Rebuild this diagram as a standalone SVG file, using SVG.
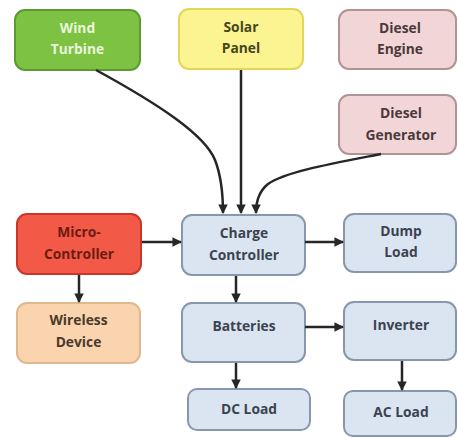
<svg xmlns="http://www.w3.org/2000/svg" width="458" height="438" viewBox="0 0 458 438">
  <defs>
    <marker id="arrow" viewBox="0 0 10 10" refX="9" refY="5" markerWidth="3.8" markerHeight="3.8" orient="auto">
      <path d="M0,0 L10,5 L0,10 Z" fill="#262626"/>
    </marker>
    <style>
      .box { stroke-width: 2; }
      .lbl { font-family: "Open Sans", "Liberation Sans", sans-serif; font-weight: bold; font-size: 13.8px; text-anchor: middle; }
      .blue rect { fill: #dbe5f1; stroke: #8797ac; }
      .blue text { fill: #3b4350; }
      .pink rect { fill: #f2d5d7; stroke: #b09394; }
      .pink text { fill: #4a3a3b; }
      .wire { fill: none; stroke: #262626; stroke-width: 2.5; marker-end: url(#arrow); }
    </style>
  </defs>
  <rect width="458" height="438" fill="#ffffff"/>

  <g id="wind-turbine">
    <rect class="box" x="15" y="10" width="125" height="60" rx="10" fill="#7dc242" stroke="#5c9a34"/>
    <text class="lbl" x="77.5" y="33" fill="#eaf6dc">Wind</text>
    <text class="lbl" x="77.5" y="54" fill="#eaf6dc">Turbine</text>
  </g>
  <g id="solar-panel">
    <rect class="box" x="179" y="9" width="124" height="60" rx="10" fill="#fbf490" stroke="#e2d65a"/>
    <text class="lbl" x="241" y="32" fill="#474520">Solar</text>
    <text class="lbl" x="241" y="53" fill="#474520">Panel</text>
  </g>
  <g id="diesel-engine" class="pink">
    <rect class="box" x="339" y="10" width="117" height="59" rx="10"/>
    <text class="lbl" x="400" y="33">Diesel</text>
    <text class="lbl" x="400" y="54">Engine</text>
  </g>
  <g id="diesel-generator" class="pink">
    <rect class="box" x="339" y="95" width="117" height="59" rx="10"/>
    <text class="lbl" x="401" y="118">Diesel</text>
    <text class="lbl" x="401" y="140">Generator</text>
  </g>
  <g id="micro-controller">
    <rect class="box" x="17" y="214" width="124" height="60" rx="10" fill="#f25a47" stroke="#c8372a"/>
    <text class="lbl" x="79" y="237" fill="#6e1a12">Micro-</text>
    <text class="lbl" x="79" y="259" fill="#6e1a12">Controller</text>
  </g>
  <g id="charge-controller" class="blue">
    <rect class="box" x="182" y="215" width="123" height="60" rx="10"/>
    <text class="lbl" x="244" y="238">Charge</text>
    <text class="lbl" x="244" y="260">Controller</text>
  </g>
  <g id="dump-load" class="blue">
    <rect class="box" x="344" y="214" width="112" height="58" rx="10"/>
    <text class="lbl" x="401" y="236">Dump</text>
    <text class="lbl" x="401" y="257">Load</text>
  </g>
  <g id="wireless-device">
    <rect class="box" x="17" y="303" width="123" height="60" rx="10" fill="#f9d4ae" stroke="#e0b88e"/>
    <text class="lbl" x="78.5" y="325" fill="#4a3a2c">Wireless</text>
    <text class="lbl" x="78.5" y="347" fill="#4a3a2c">Device</text>
  </g>
  <g id="batteries" class="blue">
    <rect class="box" x="182" y="303" width="123" height="59" rx="10"/>
    <text class="lbl" x="244" y="331">Batteries</text>
  </g>
  <g id="inverter" class="blue">
    <rect class="box" x="344" y="302" width="112" height="58" rx="10"/>
    <text class="lbl" x="401" y="330">Inverter</text>
  </g>
  <g id="dc-load" class="blue">
    <rect class="box" x="188" y="389" width="122" height="41" rx="9"/>
    <text class="lbl" x="249" y="414">DC Load</text>
  </g>
  <g id="ac-load" class="blue">
    <rect class="box" x="344" y="391" width="112" height="45" rx="9"/>
    <text class="lbl" x="401" y="417">AC Load</text>
  </g>

  <g id="connectors">
    <path class="wire" d="M96,70 C160,105 205,135 215,160 C222,178 223,195 223,213"/>
    <path class="wire" d="M241,70 L241,213"/>
    <path class="wire" d="M381,154 C330,164 285,172 268,184 C258,192 256,202 256,213"/>
    <path class="wire" d="M142,242 L181,242"/>
    <path class="wire" d="M305,242 L343,242"/>
    <path class="wire" d="M79,275 L79,302"/>
    <path class="wire" d="M236,276 L236,302"/>
    <path class="wire" d="M305,327 L343,327"/>
    <path class="wire" d="M236,363 L236,388"/>
    <path class="wire" d="M402,361 L402,390"/>
  </g>
</svg>
